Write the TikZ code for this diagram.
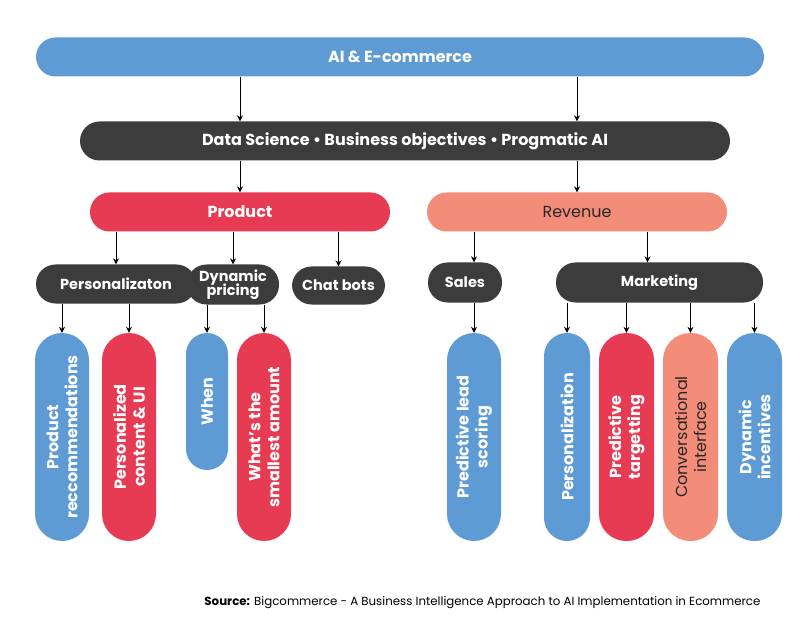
\documentclass[tikz,border=0pt]{standalone}
\usepackage{fontspec}
\setmainfont{Poppins}
\usetikzlibrary{arrows.meta}
\definecolor{cblue}{HTML}{5E9BD4}
\definecolor{cred}{HTML}{E63B52}
\definecolor{csalmon}{HTML}{F38C79}
\definecolor{cdark}{HTML}{3C3C3C}
\begin{document}
\begin{tikzpicture}[x=1pt,y=-1pt,
  bar/.style={rounded corners=19.5pt,minimum height=39pt,text=white,font=\bfseries\fontsize{16}{18}\selectfont},
  box/.style={rounded corners=19.5pt,minimum height=39pt,text=white,inner sep=2pt,
    font=\bfseries\fontsize{14.5}{15}\selectfont,align=center},
  pill/.style={rotate=90,rounded corners=27pt,minimum height=54pt,minimum width=208pt,
    text=white,font=\bfseries\fontsize{16}{19}\selectfont,align=center,inner sep=2pt},
  arr/.style={-{Stealth[length=6pt,width=6pt]},line width=1pt}]
\useasboundingbox (0,0) rectangle (800,644);
% bars
\node[bar,fill=cblue,minimum width=728pt] (top) at (400,57) {AI \& E-commerce};
\node[bar,fill=cdark,minimum width=650pt] (ds) at (405,141)
  {Data Science \textbullet\ Business objectives \textbullet\ Progmatic AI};
\node[bar,fill=cred,minimum width=300pt] (prod) at (240,212) {Product};
\node[bar,fill=csalmon,minimum width=300pt,text=black!85,font=\fontsize{16}{18}\selectfont] (rev) at (577,212) {Revenue};
% second level
\node[box,fill=cdark,minimum width=160pt] (pers) at (116,284) {Personalizaton};
\node[box,fill=cdark,minimum width=92pt,minimum height=40pt] (dyn) at (233,284.5) {Dynamic\\[-3pt]pricing};
\node[box,fill=cdark,minimum width=93pt,minimum height=38pt] (chat) at (338.5,285.5) {Chat bots};
\node[box,fill=cdark,minimum width=74pt,minimum height=40pt] (sales) at (465,282.5) {Sales};
\node[box,fill=cdark,minimum width=207pt,minimum height=40pt] (mkt) at (659.5,282.5) {Marketing};
% pills
\node[pill,fill=cblue] (prec) at (62,437) {Product\\reccommendations};
\node[pill,fill=cred] (pcont) at (129,437) {Personalized\\content \& UI};
\node[pill,fill=cblue,rounded corners=21pt,minimum height=42pt,minimum width=137pt] (when) at (207,401.5) {When};
\node[pill,fill=cred] (small) at (264,437) {What's the\\smallest amount};
\node[pill,fill=cblue] (lead) at (474,437) {Predictive lead\\scoring};
\node[pill,fill=cblue,rounded corners=23pt,minimum height=46pt] (mpers) at (567,437) {Personalization};
\node[pill,fill=cred,minimum height=55pt] (ptarg) at (626.5,437) {Predictive\\targetting};
\node[pill,fill=csalmon,text=black!85,font=\fontsize{16}{19}\selectfont,minimum height=55pt] (conv) at (690.5,437) {Conversational\\interface};
\node[pill,fill=cblue,minimum height=55pt] (dinc) at (754.5,437) {Dynamic\\incentives};
% arrows
\draw[arr] (top.south -| prod) -- (ds.north -| prod);
\draw[arr] (top.south -| rev) -- (ds.north -| rev);
\draw[arr] (ds.south -| prod) -- (prod.north);
\draw[arr] (ds.south -| rev) -- (rev.north);
\draw[arr] (prod.south -| pers) -- (pers.north);
\draw[arr] (prod.south -| dyn) -- (dyn.north);
\draw[arr] (prod.south -| chat) -- (chat.north);
\draw[arr] (rev.south -| lead) -- (sales.north -| lead);
\draw[arr] ([xshift=-12pt]rev.south -| mkt) -- ([xshift=-12pt]mkt.north);
\foreach \p in {prec,pcont} \draw[arr] (pers.south -| \p) -- (\p.east);
\foreach \p in {when,small} \draw[arr] (dyn.south -| \p) -- (\p.east);
\draw[arr] (sales.south -| lead) -- (lead.east);
\foreach \p in {mpers,ptarg,conv,dinc} \draw[arr] (mkt.south -| \p) -- (\p.east);
% source
\node[anchor=east,font=\fontsize{11.8}{14}\selectfont] (src) at (764,603)
  {\textbf{Source:} Bigcommerce - A Business Intelligence Approach to AI Implementation in Ecommerce};
\end{tikzpicture}
\end{document}
